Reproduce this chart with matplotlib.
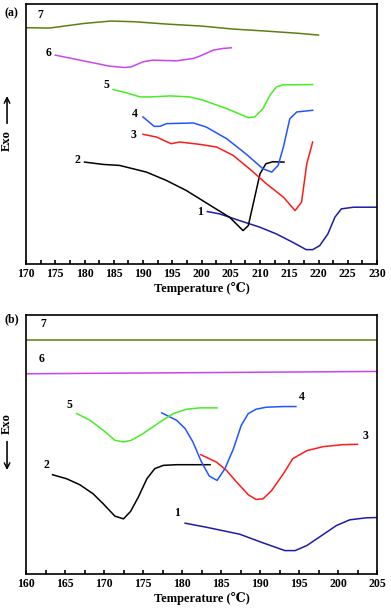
import matplotlib
matplotlib.use("Agg")
import matplotlib.pyplot as plt
from matplotlib.ticker import MultipleLocator

plt.rcParams['font.family'] = ['Liberation Serif', 'DejaVu Serif']
plt.rcParams['font.weight'] = 'bold'

# ---- panel (a): heating scans, arbitrary heat-flow units ----
a7_t = [170, 174, 180, 184.5, 188.5, 194, 200, 205.4, 211, 216.8, 220]
a7_h = [7.07, 7.06, 7.20, 7.27, 7.25, 7.18, 7.12, 7.03, 6.97, 6.90, 6.85]
a6_t = [175, 179.8, 184.3, 186.9, 188, 190, 191.6, 195.7, 198.6, 199.7, 202, 203.7, 205.1]
a6_h = [6.25, 6.08, 5.92, 5.88, 5.90, 6.05, 6.10, 6.08, 6.15, 6.22, 6.40, 6.45, 6.47]
a5_t = [184.9, 187.2, 189.5, 191.2, 194.6, 198, 200.3, 204.3, 208, 209.1, 210.5, 211.7, 212.8, 213.9, 219]
a5_h = [5.22, 5.12, 5.00, 5.00, 5.03, 5.00, 4.90, 4.65, 4.38, 4.40, 4.65, 5.05, 5.30, 5.36, 5.37]
a4_t = [190, 191.9, 192.9, 194, 198.6, 200.8, 204.3, 207.7, 210.5, 212, 213.1, 214, 215.1, 216.3, 219]
a4_h = [4.40, 4.12, 4.12, 4.20, 4.22, 4.10, 3.75, 3.28, 2.85, 2.75, 2.95, 3.50, 4.35, 4.55, 4.60]
a3_t = [190, 192.3, 194.8, 196.3, 199.7, 202.6, 205.4, 208.2, 211.1, 214, 216, 217.1, 218, 219]
a3_h = [3.88, 3.80, 3.60, 3.65, 3.58, 3.50, 3.25, 2.85, 2.40, 2.00, 1.60, 1.85, 3.00, 3.65]
a2_t = [180, 183.2, 186, 190.6, 194, 197.4, 202, 204.8, 207.1, 208, 210, 211, 212.2, 214.1]
a2_h = [3.05, 2.98, 2.95, 2.75, 2.50, 2.20, 1.70, 1.40, 1.00, 1.15, 2.70, 3.00, 3.06, 3.05]
a1_t = [201, 203.1, 206.5, 210, 212.8, 215.6, 217.9, 219, 220.2, 221.6, 222.8, 223.9, 226, 230]
a1_h = [1.57, 1.50, 1.30, 1.10, 0.90, 0.65, 0.43, 0.43, 0.55, 0.90, 1.40, 1.65, 1.70, 1.70]
a_label_pos = [(199.8, 1.55), (178.8, 3.10), (188.3, 3.87), (188.6, 4.50),
               (183.7, 5.35), (173.8, 6.32), (172.5, 7.45)]

# ---- panel (b): cooling scans ----
b7_t = [160, 205]
b7_h = [7.01, 7.01]
b6_t = [160, 205]
b6_h = [5.99, 6.06]
b5_t = [166.5, 168.2, 169.9, 171.4, 172.5, 173.5, 175, 177.2, 178.9, 180.6, 182.3, 184.5]
b5_h = [4.80, 4.60, 4.30, 4.00, 3.95, 4.00, 4.20, 4.55, 4.80, 4.93, 4.97, 4.97]
b4_t = [177.4, 179.3, 180.4, 181.4, 182.5, 183.5, 184.5, 185.5, 186.6, 187.6, 188.5, 189.5, 190.8, 193, 194.6]
b4_h = [4.82, 4.60, 4.35, 3.95, 3.35, 2.93, 2.80, 3.15, 3.75, 4.45, 4.80, 4.93, 4.99, 5.01, 5.01]
b3_t = [182.4, 184.4, 185.7, 187, 188.5, 189.5, 190.4, 191.5, 193, 194.2, 196, 198.1, 200.6, 202.5]
b3_h = [3.57, 3.35, 3.10, 2.75, 2.37, 2.23, 2.25, 2.50, 3.00, 3.45, 3.69, 3.81, 3.87, 3.88]
b2_t = [163.4, 165.2, 166.9, 168.6, 169.9, 171.4, 172.5, 173.4, 174.4, 175.5, 176.5, 177.6, 179.3, 181.4, 183.6]
b2_h = [2.97, 2.85, 2.67, 2.40, 2.10, 1.73, 1.65, 1.87, 2.30, 2.85, 3.15, 3.25, 3.27, 3.27, 3.27]
b1_t = [180.4, 183.1, 187.4, 190.4, 193.2, 194.5, 196, 197.9, 199.8, 201.5, 203.6, 205]
b1_h = [1.52, 1.40, 1.19, 0.93, 0.70, 0.70, 0.85, 1.15, 1.45, 1.62, 1.68, 1.69]
b_label_pos = [(179.4, 1.83), (162.6, 3.25), (203.5, 4.13), (195.3, 5.30),
               (165.6, 5.07), (162.0, 6.43), (162.2, 7.47)]

colors = ['#1c1caa', '#000000', '#ff1a1a', '#2255ff', '#44ee22', '#cc44ee', '#5f7d10']
labels = ['1', '2', '3', '4', '5', '6', '7']

fig = plt.figure(figsize=(3.91, 6.16), dpi=100)
ax_a = fig.add_axes([0.0665, 0.5714, 0.8977, 0.4221])
ax_b = fig.add_axes([0.0665, 0.0682, 0.8977, 0.4205])

curves_a = [(a1_t, a1_h), (a2_t, a2_h), (a3_t, a3_h), (a4_t, a4_h),
            (a5_t, a5_h), (a6_t, a6_h), (a7_t, a7_h)]
curves_b = [(b1_t, b1_h), (b2_t, b2_h), (b3_t, b3_h), (b4_t, b4_h),
            (b5_t, b5_h), (b6_t, b6_h), (b7_t, b7_h)]

for ax, curves, lpos, xlim, ylim in [
        (ax_a, curves_a, a_label_pos, (170, 230), (0, 7.78)),
        (ax_b, curves_b, b_label_pos, (160, 205), (0, 7.75))]:
    for (t, h), c, lab, (lx, ly) in zip(curves, colors, labels, lpos):
        ax.plot(t, h, color=c, lw=1.1)
        ax.text(lx, ly, lab, fontsize=8.5, fontweight='bold', ha='center', va='center')
    ax.set_xlim(*xlim)
    ax.set_ylim(*ylim)
    ax.xaxis.set_major_locator(MultipleLocator(5))
    ax.xaxis.set_minor_locator(MultipleLocator(2.5))
    ax.tick_params(axis='x', which='both', direction='in', length=3, width=1.2,
                   labelsize=8.5, pad=3, top=False)
    ax.set_yticks([])
    for s in ax.spines.values():
        s.set_linewidth(1.2)
    for lbl in ax.get_xticklabels():
        lbl.set_fontweight('bold')
    ax.set_xlabel('Temperature (\u2103)', fontsize=9, fontweight='bold', labelpad=1)

fig.text(0.03, 0.978, '(a)', fontsize=8.5, fontweight='bold', ha='center', va='center')
fig.text(0.03, 0.481, '(b)', fontsize=8.5, fontweight='bold', ha='center', va='center')

# Exo labels with arrows
fig.text(0.018, 0.772, 'Exo', rotation=90, fontsize=9, fontweight='bold', ha='center', va='center')
fig.add_artist(plt.annotate('', xy=(0.018, 0.848), xytext=(0.018, 0.795),
                            xycoords='figure fraction',
                            arrowprops=dict(arrowstyle='->', lw=0.8, color='black')))
fig.text(0.018, 0.312, 'Exo', rotation=90, fontsize=9, fontweight='bold', ha='center', va='center')
fig.add_artist(plt.annotate('', xy=(0.018, 0.233), xytext=(0.018, 0.288),
                            xycoords='figure fraction',
                            arrowprops=dict(arrowstyle='->', lw=0.8, color='black')))

fig.savefig('out.png', dpi=100)
